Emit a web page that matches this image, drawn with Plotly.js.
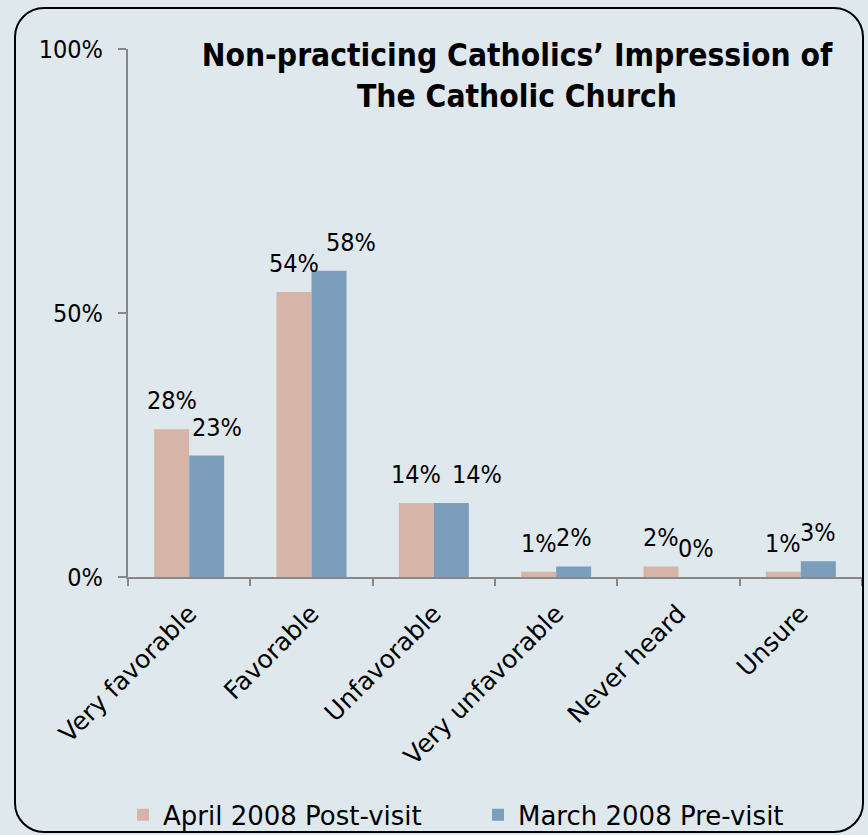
<!DOCTYPE html>
<html>
<head>
<meta charset="utf-8">
<script src="https://cdn.plot.ly/plotly-3.0.1.min.js"></script>
<style>
  html, body { margin: 0; padding: 0; background: #dfe8ec; }
  #wrap { position: relative; width: 868px; height: 835px; background: #dfe8ec; overflow: hidden; }
  #chart { position: absolute; left: 0; top: 0; width: 868px; height: 835px; }
  #frame { position: absolute; left: 14px; top: 7px; width: 846px; height: 822px;
           border: 2.5px solid #000; border-radius: 30px; pointer-events: none; z-index: 10; }
</style>
</head>
<body>
<div id="wrap">
  <div id="chart"></div>
  <div id="frame"></div>
</div>
<script>
// ---- data ----
const categories = ["Very favorable", "Favorable", "Unfavorable", "Very unfavorable", "Never heard", "Unsure"];
const seriesNames = ["April 2008 Post-visit", "March 2008 Pre-visit"];
const aprilPost = [28, 54, 14, 1, 2, 1];
const marchPre  = [23, 58, 14, 2, 0, 3];
const yTickVals = [0, 50, 100];
const yTickText = ["0%", "50%", "100%"];
const chartTitle = "Non-practicing Catholics\u2019 Impression of<br>The Catholic Church";

// ---- styles ----
const colors = ["#d6b4a8", "#7b9ebd"];
const numFont = "DejaVu Sans Condensed, DejaVu Sans, sans-serif";
const txtFont = "DejaVu Sans, sans-serif";
const labelNudge = [[0, 10], [0, 22], [0, 26], [0, 0], [0, 0], [0, 0]];

const seriesVals = [aprilPost, marchPre];
const traces = seriesVals.map((vals, s) => ({
  type: "bar",
  name: seriesNames[s],
  x: categories,
  y: vals,
  marker: { color: colors[s], line: { width: 0 } },
  hoverinfo: "skip"
}));

const annotations = [];
seriesVals.forEach((vals, s) => {
  vals.forEach((v, i) => {
    annotations.push({
      x: categories[i], y: v, xref: "x", yref: "y",
      text: v + "%", showarrow: false,
      xanchor: "center", yanchor: "bottom",
      xshift: (s === 0 ? -17.5 : 17.5) + labelNudge[i][s],
      yshift: 12,
      font: { family: numFont, size: 25, color: "#000" }
    });
  });
});

const layout = {
  width: 868, height: 835,
  margin: { l: 128, r: 6, t: 49, b: 258, autoexpand: false },
  paper_bgcolor: "rgba(0,0,0,0)",
  plot_bgcolor: "rgba(0,0,0,0)",
  barmode: "group",
  bargap: 0.428,
  bargroupgap: 0,
  title: {
    text: chartTitle,
    xref: "container", yref: "container",
    x: 0.5956, y: 0.921, xanchor: "center", yanchor: "middle",
    font: { family: numFont, size: 31.5, weight: "bold", color: "#000" }
  },
  xaxis: {
    type: "category", automargin: false,
    showline: true, linecolor: "#888", linewidth: 2,
    ticks: "outside", tickson: "boundaries", ticklen: 7, tickwidth: 2, tickcolor: "#888",
    tickangle: -45,
    ticklabelstandoff: 10,
    tickfont: { family: txtFont, size: 25, color: "#000" },
    showgrid: false, zeroline: false, fixedrange: true
  },
  yaxis: {
    range: [0, 100], automargin: false,
    tickvals: yTickVals, ticktext: yTickText,
    showline: true, linecolor: "#888", linewidth: 2,
    ticks: "outside", ticklen: 8, tickwidth: 2, tickcolor: "#888",
    ticklabelstandoff: 10,
    tickfont: { family: numFont, size: 25, color: "#000" },
    showgrid: false, zeroline: false, fixedrange: true
  },
  showlegend: true,
  legend: {
    orientation: "h",
    xref: "container", yref: "container",
    x: 0.1417, xanchor: "left", y: 0.024, yanchor: "middle",
    entrywidth: 310, entrywidthmode: "pixels",
    font: { family: txtFont, size: 26, color: "#000" },
    bgcolor: "rgba(0,0,0,0)", traceorder: "normal"
  },
  annotations: annotations
};

Plotly.newPlot("chart", traces, layout, { displayModeBar: false, staticPlot: true });
</script>
</body>
</html>
